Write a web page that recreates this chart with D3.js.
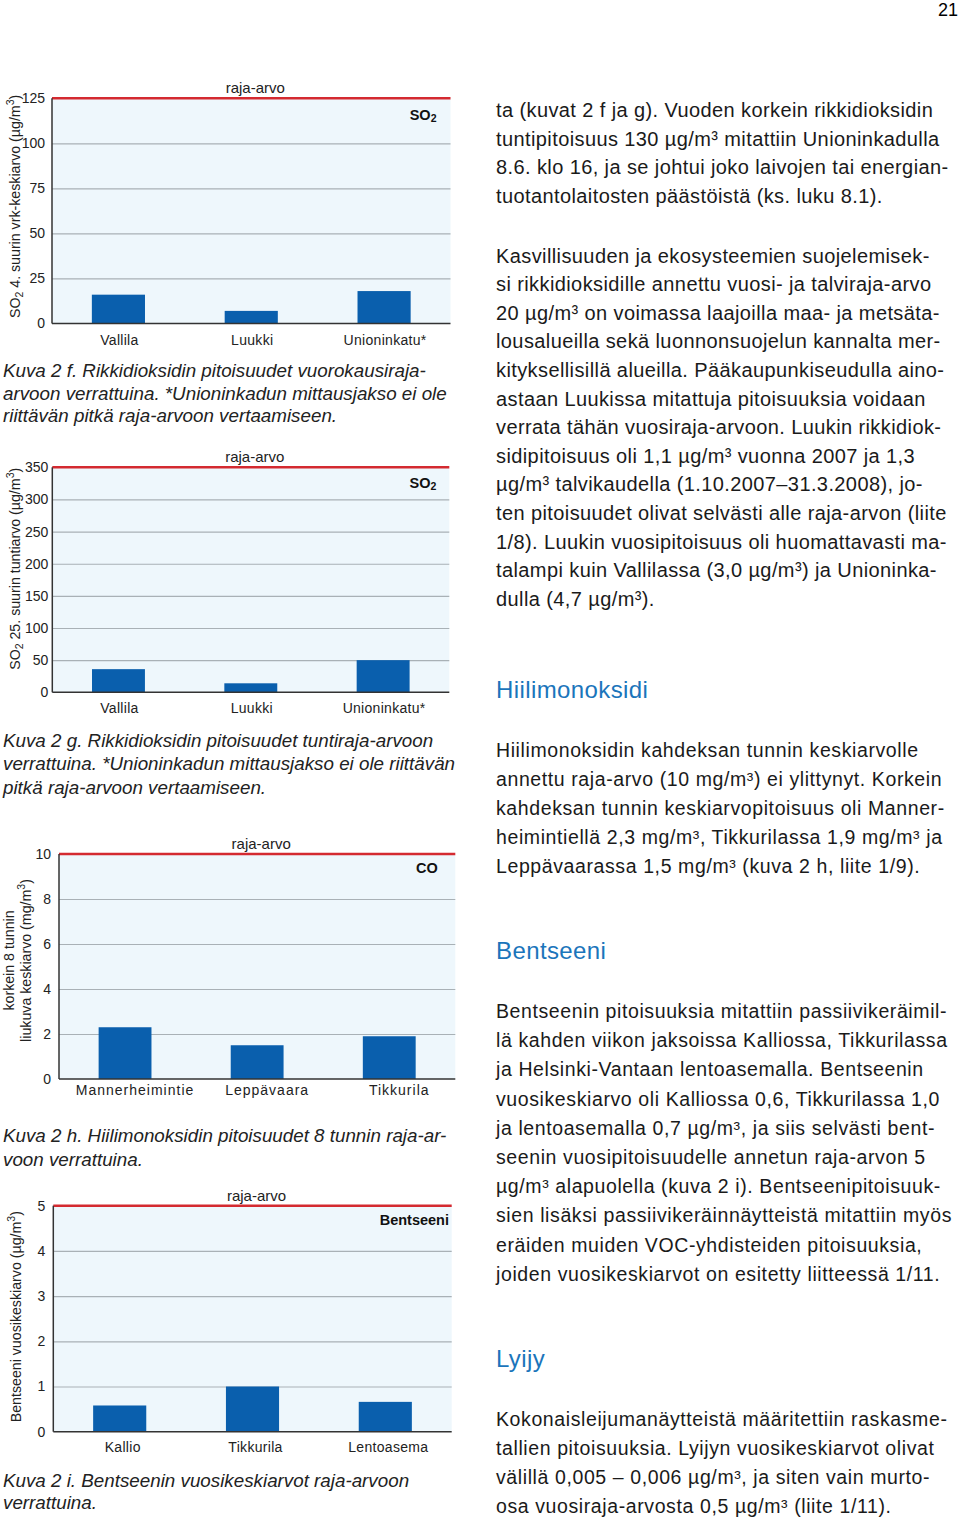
<!DOCTYPE html>
<meta charset="utf-8">
<html>
  <head>
    <script src="https://d3js.org/d3.v7.min.js"></script>
    <style>
      body { margin: 0; background: #fff; }
      svg text { font-family: "Liberation Sans", Arial, Helvetica, sans-serif; }
    </style>
  </head>
  <body>
    <div id="page"></div>

    <script type="text/javascript">
      // kuva 2 f - SO2 vuorokausiarvot
      var so2DayStations = ["Vallila", "Luukki", "Unioninkatu*"],
          so2DayValues = [16, 7, 18],
          so2DayTicks = [0, 25, 50, 75, 100, 125],
          so2DayLimit = 125;

      // kuva 2 g - SO2 tuntiarvot
      var so2HourStations = ["Vallila", "Luukki", "Unioninkatu*"],
          so2HourValues = [36, 14, 50],
          so2HourTicks = [0, 50, 100, 150, 200, 250, 300, 350],
          so2HourLimit = 350;

      // kuva 2 h - CO
      var coStations = ["Mannerheimintie", "Leppävaara", "Tikkurila"],
          coValues = [2.3, 1.5, 1.9],
          coTicks = [0, 2, 4, 6, 8, 10],
          coLimit = 10;

      // kuva 2 i - bentseeni
      var benzStations = ["Kallio", "Tikkurila", "Lentoasema"],
          benzValues = [0.58, 1.0, 0.66],
          benzTicks = [0, 1, 2, 3, 4, 5],
          benzLimit = 5;

      var barColor = "#0a5fad",
          plotBg = "#eef7fc",
          gridColor = "#a9b1b6",
          limitColor = "#d42a30",
          headColor = "#1b75bb";

      var svg = d3.select("#page").append("svg")
          .attr("width", 960)
          .attr("height", 1521);

      svg.append("text")
          .attr("x", 958).attr("y", 16)
          .attr("text-anchor", "end")
          .style("font-size", "18px")
          .text("21");

      function drawChart(c) {
        var g = svg.append("g");
        var x = d3.scaleBand().domain(c.cats).range([c.x0, c.x1])
            .paddingInner(0.6).paddingOuter(0.3);
        var y = d3.scaleLinear().domain([0, c.limit]).range([c.y1, c.y0]);

        g.append("rect")
            .attr("x", c.x0).attr("y", y(c.limit))
            .attr("width", c.x1 - c.x0).attr("height", y(0) - y(c.limit))
            .style("fill", plotBg);

        // grid
        var grid = g.append("g")
            .attr("transform", "translate(" + c.x0 + ",0)")
            .call(d3.axisLeft(y).tickValues(c.ticks.slice(1, -1))
                  .tickSize(-(c.x1 - c.x0)).tickFormat(""));
        grid.select(".domain").remove();
        grid.selectAll("line").style("stroke", gridColor).style("stroke-width", "1.2px");

        // tick labels
        var ax = g.append("g")
            .attr("transform", "translate(" + c.x0 + ",0)")
            .call(d3.axisLeft(y).tickValues(c.ticks).tickSize(0).tickPadding(c.tickPad)
                  .tickFormat(d3.format("d")));
        ax.select(".domain").remove();
        ax.selectAll("text")
            .style("font-family", "'Liberation Sans', Arial, sans-serif")
            .style("font-size", "14px")
            .style("fill", "#222");

        g.selectAll(".bar")
            .data(c.values)
            .enter().append("rect")
            .attr("x", function(d, i) { return x(c.cats[i]); })
            .attr("width", x.bandwidth())
            .attr("y", function(d) { return y(d); })
            .attr("height", function(d) { return y(0) - y(d); })
            .style("fill", barColor);

        // raja-arvo line
        g.append("line")
            .attr("x1", c.x0).attr("x2", c.x1)
            .attr("y1", y(c.limit)).attr("y2", y(c.limit))
            .style("stroke", limitColor).style("stroke-width", "2.5px");

        g.append("line")
            .attr("x1", c.x0).attr("x2", c.x0)
            .attr("y1", y(c.limit)).attr("y2", y(0))
            .style("stroke", "#333").style("stroke-width", "1.5px");
        g.append("line")
            .attr("x1", c.x0).attr("x2", c.x1)
            .attr("y1", y(0)).attr("y2", y(0))
            .style("stroke", "#333").style("stroke-width", "1.5px");

        g.selectAll(".cat")
            .data(c.cats)
            .enter().append("text")
            .attr("x", function(d) { return x(d) + x.bandwidth() / 2 + c.catDx; })
            .attr("y", y(0) + c.catDy)
            .attr("text-anchor", "middle")
            .style("font-size", "14px")
            .style("letter-spacing", c.catSpacing)
            .style("fill", "#222")
            .text(function(d) { return d; });

        g.append("text")
            .attr("x", (c.x0 + c.x1) / 2 + 4)
            .attr("y", y(c.limit) - 5)
            .attr("text-anchor", "middle")
            .style("font-size", "15px")
            .style("fill", "#222")
            .text("raja-arvo");

        var lab = g.append("text")
            .attr("x", c.x1 - c.labRight)
            .attr("y", y(c.limit) + c.labDy)
            .attr("text-anchor", "end")
            .style("font-size", "14.5px")
            .style("font-weight", "bold")
            .style("fill", "#111");
        lab.append("tspan").text(c.label[0]);
        if (c.label[1]) lab.append("tspan").attr("dy", 2).style("font-size", "10.5px").text(c.label[1]);

        // y title
        c.title.forEach(function(line, li) {
          var t = g.append("text")
              .attr("transform", "translate(" + line.x + "," + ((c.y0 + c.y1) / 2 + c.titleDy) + ") rotate(-90)")
              .attr("text-anchor", "middle")
              .style("font-size", "14.2px")
              .style("fill", "#222");
          line.parts.forEach(function(p) {
            var s = t.append("tspan").text(p[0]);
            if (p[1] == "sub") s.attr("dy", 3).style("font-size", "10.5px");
            if (p[1] == "sup") s.attr("dy", -6).style("font-size", "10.5px");
            if (p[1] == "back") s.attr("dy", 6);
            if (p[1] == "up") s.attr("dy", -3);
          });
        });

        c.caption.forEach(function(line, i) {
          g.append("text")
              .attr("x", 3)
              .attr("y", c.capY + i * c.capLh)
              .style("font-size", "18.8px")
              .style("font-style", "italic")
              .style("fill", "#222")
              .text(line);
        });
      }

      drawChart({
        cats: so2DayStations, values: so2DayValues, ticks: so2DayTicks, limit: so2DayLimit,
        x0: 52, x1: 450.5, y0: 98.3, y1: 323.5, tickPad: 7,
        catDx: 1, catDy: 21.5, catSpacing: "0.3px",
        label: ["SO", "2"], labRight: 14, labDy: 22, titleDy: -4.5,
        title: [{ x: 20, parts: [["SO"], ["2", "sub"], [" 4. suurin vrk-keskiarvo (µg/m", "up"], ["3", "sup"], [")", "back"]] }],
        caption: ["Kuva 2 f. Rikkidioksidin pitoisuudet vuorokausiraja-",
                  "arvoon verrattuina. *Unioninkadun mittausjakso ei ole",
                  "riittävän pitkä raja-arvoon vertaamiseen."],
        capY: 377, capLh: 22.7
      });

      drawChart({
        cats: so2HourStations, values: so2HourValues, ticks: so2HourTicks, limit: so2HourLimit,
        x0: 52.3, x1: 449.3, y0: 467.3, y1: 692.3, tickPad: 4,
        catDx: 1, catDy: 21, catSpacing: "0.3px",
        label: ["SO", "2"], labRight: 13, labDy: 21, titleDy: -11,
        title: [{ x: 20, parts: [["SO"], ["2", "sub"], [" 25. suurin tuntiarvo (µg/m", "up"], ["3", "sup"], [")", "back"]] }],
        caption: ["Kuva 2 g. Rikkidioksidin pitoisuudet tuntiraja-arvoon",
                  "verrattuina. *Unioninkadun mittausjakso ei ole riittävän",
                  "pitkä raja-arvoon vertaamiseen."],
        capY: 747, capLh: 23.3
      });

      drawChart({
        cats: coStations, values: coValues, ticks: coTicks, limit: coLimit,
        x0: 59, x1: 455.3, y0: 854, y1: 1079, tickPad: 8,
        catDx: 10, catDy: 16, catSpacing: "1px",
        label: ["CO"], labRight: 17.5, labDy: 19, titleDy: -6,
        title: [{ x: 14, parts: [["korkein 8 tunnin"]] },
                { x: 31, parts: [["liukuva keskiarvo (mg/m"], ["3", "sup"], [")", "back"]] }],
        caption: ["Kuva 2 h. Hiilimonoksidin pitoisuudet 8 tunnin raja-ar-",
                  "voon verrattuina."],
        capY: 1142, capLh: 24
      });

      drawChart({
        cats: benzStations, values: benzValues, ticks: benzTicks, limit: benzLimit,
        x0: 53.3, x1: 451.7, y0: 1205.7, y1: 1431.7, tickPad: 8,
        catDx: 3, catDy: 20, catSpacing: "0.3px",
        label: ["Bentseeni"], labRight: 2.7, labDy: 19, titleDy: -2,
        title: [{ x: 21, parts: [["Bentseeni vuosikeskiarvo (µg/m"], ["3", "sup"], [")", "back"]] }],
        caption: ["Kuva 2 i. Bentseenin vuosikeskiarvot raja-arvoon",
                  "verrattuina."],
        capY: 1487, capLh: 22
      });

      // oikea palsta
      var col = [
        { head: false, y: 117, lh: 28.5, sp: "0.4px", lines: [
          "ta (kuvat 2 f ja g). Vuoden korkein rikkidioksidin",
          "tuntipitoisuus 130 µg/m³ mitattiin Unioninkadulla",
          "8.6. klo 16, ja se johtui joko laivojen tai energian-",
          "tuotantolaitosten päästöistä (ks. luku 8.1)."] },
        { head: false, y: 262.5, lh: 28.6, sp: "0.4px", lines: [
          "Kasvillisuuden ja ekosysteemien suojelemisek-",
          "si rikkidioksidille annettu vuosi- ja talviraja-arvo",
          "20 µg/m³ on voimassa laajoilla maa- ja metsäta-",
          "lousalueilla sekä luonnonsuojelun kannalta mer-",
          "kityksellisillä alueilla. Pääkaupunkiseudulla aino-",
          "astaan Luukissa mitattuja pitoisuuksia voidaan",
          "verrata tähän vuosiraja-arvoon. Luukin rikkidiok-",
          "sidipitoisuus oli 1,1 µg/m³ vuonna 2007 ja 1,3",
          "µg/m³ talvikaudella (1.10.2007–31.3.2008), jo-",
          "ten pitoisuudet olivat selvästi alle raja-arvon (liite",
          "1/8). Luukin vuosipitoisuus oli huomattavasti ma-",
          "talampi kuin Vallilassa (3,0 µg/m³) ja Unioninka-",
          "dulla (4,7 µg/m³)."] },
        { head: true, y: 698, lines: ["Hiilimonoksidi"] },
        { head: false, y: 757, lh: 29, sp: "0.6px", lines: [
          "Hiilimonoksidin kahdeksan tunnin keskiarvolle",
          "annettu raja-arvo (10 mg/m³) ei ylittynyt. Korkein",
          "kahdeksan tunnin keskiarvopitoisuus oli Manner-",
          "heimintiellä 2,3 mg/m³, Tikkurilassa 1,9 mg/m³ ja",
          "Leppävaarassa 1,5 mg/m³ (kuva 2 h, liite 1/9)."] },
        { head: true, y: 959, lines: ["Bentseeni"] },
        { head: false, y: 1018, lh: 29.2, sp: "0.6px", lines: [
          "Bentseenin pitoisuuksia mitattiin passiivikeräimil-",
          "lä kahden viikon jaksoissa Kalliossa, Tikkurilassa",
          "ja Helsinki-Vantaan lentoasemalla. Bentseenin",
          "vuosikeskiarvo oli Kalliossa 0,6, Tikkurilassa 1,0",
          "ja lentoasemalla 0,7 µg/m³, ja siis selvästi bent-",
          "seenin vuosipitoisuudelle annetun raja-arvon 5",
          "µg/m³ alapuolella (kuva 2 i). Bentseenipitoisuuk-",
          "sien lisäksi passiivikeräinnäytteistä mitattiin myös",
          "eräiden muiden VOC-yhdisteiden pitoisuuksia,",
          "joiden vuosikeskiarvot on esitetty liitteessä 1/11."] },
        { head: true, y: 1367, lines: ["Lyijy"] },
        { head: false, y: 1426, lh: 29, sp: "0.6px", lines: [
          "Kokonaisleijumanäytteistä määritettiin raskasme-",
          "tallien pitoisuuksia. Lyijyn vuosikeskiarvot olivat",
          "välillä 0,005 – 0,006 µg/m³, ja siten vain murto-",
          "osa vuosiraja-arvosta 0,5 µg/m³ (liite 1/11)."] }
      ];

      col.forEach(function(block) {
        svg.selectAll(null)
            .data(block.lines)
            .enter().append("text")
            .attr("x", 496)
            .attr("y", function(d, i) { return block.y + i * (block.lh || 0); })
            .style("font-size", block.head ? "24px" : (block.sp == "0.4px" ? "20px" : "19.5px"))
            .style("letter-spacing", block.head ? "0.4px" : block.sp)
            .style("fill", block.head ? headColor : "#1a1a1a")
            .text(function(d) { return d; });
      });
    </script>
  </body>
</html>
